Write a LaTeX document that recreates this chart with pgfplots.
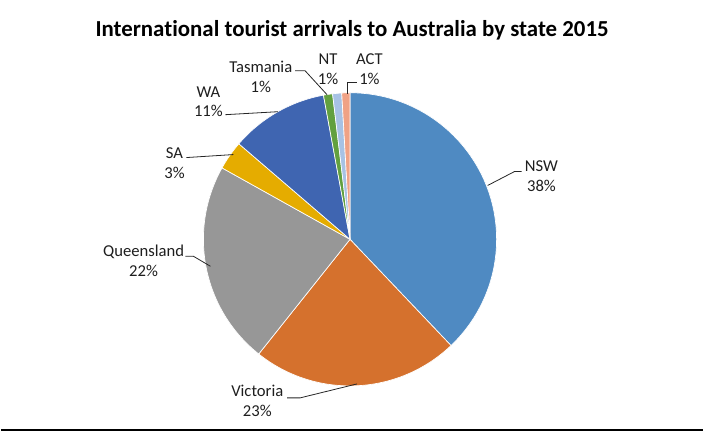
\documentclass[border=0pt]{standalone}
\usepackage{pgfplots}
\pgfplotsset{compat=1.18}
\usepackage{pgfplotstable}
\usepackage{fontspec}
\setmainfont{Carlito}[Ligatures=NoCommon]

\definecolor{cNSW}{HTML}{4F8AC2}
\definecolor{cVIC}{HTML}{D5712D}
\definecolor{cQLD}{HTML}{979797}
\definecolor{cSA}{HTML}{E5AC00}
\definecolor{cWA}{HTML}{3F65B1}
\definecolor{cTAS}{HTML}{62A03F}
\definecolor{cNT}{HTML}{A7C2E4}
\definecolor{cACT}{HTML}{F0A285}
\definecolor{labelc}{HTML}{1E1E1E}

% share in percent, clockwise from 12 o'clock
\pgfplotstableread{
state value col
NSW 37.9 cNSW
Victoria 22.8 cVIC
Queensland 22.4 cQLD
SA 3.2 cSA
WA 10.8 cWA
Tasmania 1.0 cTAS
NT 1.0 cNT
ACT 0.9 cACT
}\piedata

\begin{document}
\begin{tikzpicture}
\begin{axis}[
  scale only axis, x=0.75pt, y=0.75pt,
  xmin=0, xmax=704, ymin=0, ymax=433, y dir=reverse,
  hide axis, clip=false,
]
\path (axis cs:0,0) rectangle (axis cs:704,433);

% slices
\def\pcum{0}
\pgfplotsforeachungrouped \i in {0,...,7}{%
  \pgfplotstablegetelem{\i}{value}\of\piedata \let\sval\pgfplotsretval
  \pgfplotstablegetelem{\i}{col}\of\piedata \let\scol\pgfplotsretval
  \pgfmathsetmacro\sA{90-\pcum*3.6}
  \pgfmathsetmacro\sB{90-(\pcum+\sval)*3.6}
  \edef\doslice{\noexpand\fill[\scol, draw=white, line width=0.5pt]
    (axis cs:350,240) -- ++(\sA:110.25pt)
    arc[start angle=\sA, end angle=\sB, radius=110.25pt] -- cycle;}
  \doslice
  \pgfmathsetmacro\pcum{\pcum+\sval}
}

% title
\node[font=\fontsize{17.2}{20}\selectfont\bfseries] at (axis cs:352,30)
  {International tourist arrivals to Australia by state 2015};

% leader lines
\begin{scope}[draw=black!85, line width=0.6pt]
\draw (axis cs:488,186) -- (axis cs:515,172) -- (axis cs:522,172);
\draw (axis cs:287,399) -- (axis cs:300,399) -- (axis cs:357,385);
\draw (axis cs:185,257) -- (axis cs:193,257) -- (axis cs:210,267);
\draw (axis cs:186,158) -- (axis cs:233,155);
\draw (axis cs:225,115) -- (axis cs:278,112);
\draw (axis cs:295,71) -- (axis cs:305,71) -- (axis cs:327,95);
\draw (axis cs:347,94) -- (axis cs:347,83) -- (axis cs:357,83);
\end{scope}

% data labels
\begin{scope}[every node/.style={align=center, text=labelc,
    font=\fontsize{12.5}{15}\selectfont}]
\node at (axis cs:542,177) {NSW\\38\%};
\node at (axis cs:257,402) {Victoria\\23\%};
\node at (axis cs:143,262) {Queensland\\22\%};
\node at (axis cs:174,163.5) {SA\\3\%};
\node at (axis cs:208,102) {WA\\11\%};
\node at (axis cs:260.5,77) {Tasmania\\1\%};
\node at (axis cs:328,69) {NT\\1\%};
\node at (axis cs:369.5,69.5) {ACT\\1\%};
\end{scope}

% frame line at the bottom
\draw[line width=1.5pt] (axis cs:0,431.5) -- (axis cs:704,431.5);
\end{axis}
\end{tikzpicture}
\end{document}
